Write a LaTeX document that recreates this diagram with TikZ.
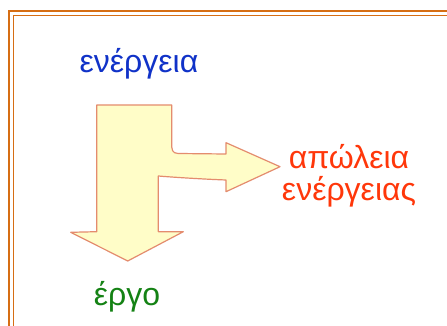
\documentclass[tikz,border=0pt]{standalone}
\usepackage{fontspec}
\setmainfont{Liberation Sans}
\definecolor{frameor}{RGB}{214,110,20}
\definecolor{txtblue}{RGB}{16,50,200}
\definecolor{txtred}{RGB}{255,55,10}
\definecolor{txtgreen}{RGB}{20,130,20}
\definecolor{arrfill}{RGB}{255,253,200}
\definecolor{arredge}{RGB}{228,140,110}
\begin{document}
\begin{tikzpicture}[x=1pt,y=-1pt,
  lbl/.style={font=\fontsize{32}{38}\selectfont, inner sep=0pt, anchor=base, align=center}]
\useasboundingbox[fill=white] (0,0) rectangle (447,326);
% double frame
\draw[frameor, line width=1.4pt] (9,330) -- (9,11) -- (450,11);
\draw[frameor, line width=1.2pt] (13.5,330) -- (13.5,15.5) -- (450,15.5);
% arrow
\draw[arredge, fill=arrfill, line width=1.2pt, line join=round]
  (96.7,105) -- (171.7,105) -- (171.7,143)
  .. controls (171.7,150) and (172,153) .. (178,153.5)
  -- (226,154) -- (226,142.7) -- (280,166.7) -- (226,191.7) -- (226,180)
  .. controls (200,179) and (170,177) .. (158.3,176)
  -- (158.3,231.7) -- (183.3,231.7) -- (127.7,261) -- (70.7,232.3) -- (96.7,231.7) -- cycle;
\node[lbl, txtblue] (en) at (139,73) {ενέργεια};
\node[lbl, txtred] (ap) at (349,168) {απώλεια};
\node[lbl, txtred] (ap2) at (349,200) {ενέργειας};
\node[lbl, txtgreen] (er) at (127,305) {έργο};
\end{tikzpicture}
\end{document}
